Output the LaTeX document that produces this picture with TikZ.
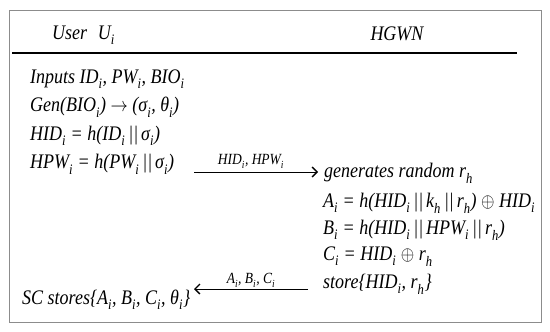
\documentclass[tikz,border=0pt]{standalone}
\usepackage{fontspec}
\usepackage{graphicx}
\setmainfont{Liberation Serif}
\usetikzlibrary{arrows.meta}
\newcommand\sbi{\raisebox{-0.3ex}{\textsubscript{\textit{i}}}}
\newcommand\sbh{\raisebox{-0.3ex}{\textsubscript{\textit{h}}}}
\newcommand\cc{\,||\,}
\newcommand\vs[1]{\scalebox{1}[1.15]{#1}}
\begin{document}
\begin{tikzpicture}[x=1pt,y=-1pt,
  txt/.style={anchor=base west,inner sep=0pt,font=\fontsize{18}{20}\selectfont\itshape},
  lbl/.style={anchor=base,inner sep=0pt,font=\fontsize{13.5}{15}\selectfont\itshape},
  msg/.style={line width=0.9pt,-{Straight Barb[length=5pt,width=10pt,line width=1.4pt]}}]
\useasboundingbox (0,0) rectangle (550,332);
\draw[draw=black!45,line width=1pt] (9,10) rectangle (541,322);
\draw[line width=1.2pt] (12,53) -- (517,53);
\node[txt] (user) at (52,39) {\vs{User\hspace{0.6em}U\sbi}};
\node[txt,anchor=base] (gw) at (397,41) {\vs{HGWN}};
% user side
\node[txt] (u1) at (30,83) {\vs{Inputs ID\sbi, PW\sbi, BIO\sbi}};
\node[txt] (u2) at (30,111.5) {\vs{Gen(BIO\sbi) $\rightarrow$ (σ\sbi, θ\sbi)}};
\node[txt] (u3) at (30,140) {\vs{HID\sbi{} = h(ID\sbi\cc σ\sbi)}};
\node[txt] (u4) at (30,168.5) {\vs{HPW\sbi{} = h(PW\sbi\cc σ\sbi)}};
\node[txt] (u5) at (22,304) {\vs{SC stores\{A\sbi, B\sbi, C\sbi, θ\sbi\}}};
% gateway side
\node[txt] (g1) at (324,177) {\vs{generates random r\sbh}};
\node[txt] (g2) at (323,207) {\vs{A\sbi{} = h(HID\sbi\cc k\sbh\cc r\sbh) $\oplus$ HID\sbi}};
\node[txt] (g3) at (323,234) {\vs{B\sbi{} = h(HID\sbi\cc HPW\sbi\cc r\sbh)}};
\node[txt] (g4) at (323,260) {\vs{C\sbi{} = HID\sbi{} $\oplus$ r\sbh}};
\node[txt] (g5) at (323,288) {\vs{store\{HID\sbi, r\sbh\}}};
% messages
\coordinate (a1s) at (194,172);
\coordinate (a1e) at (318,172);
\draw[msg] (a1s) -- (a1e);
\node[lbl] (l1) at (251,164) {\vs{HID\sbi, HPW\sbi}};
\coordinate (a2s) at (308,289);
\coordinate (a2e) at (194,289);
\draw[msg] (a2s) -- (a2e);
\node[lbl] (l2) at (251,283) {\vs{A\sbi, B\sbi, C\sbi}};
\end{tikzpicture}
\end{document}
